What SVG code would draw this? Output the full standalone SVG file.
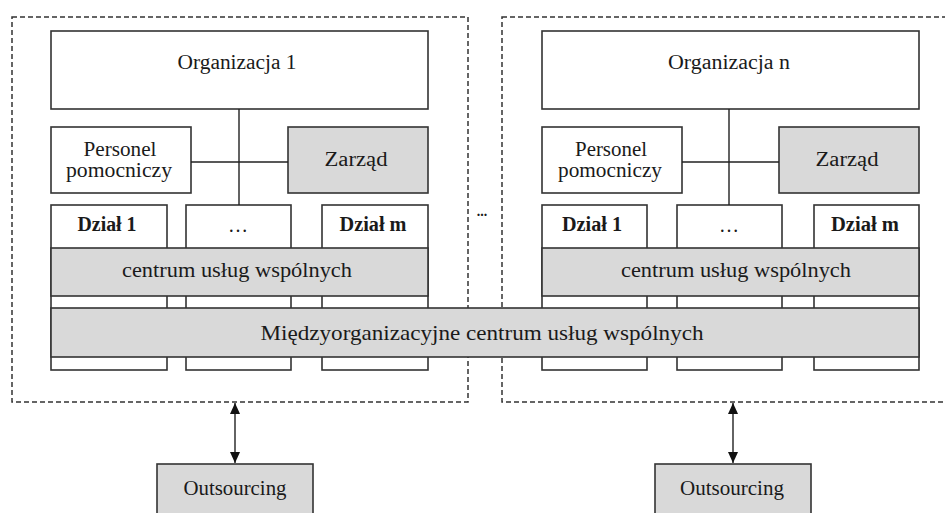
<svg xmlns="http://www.w3.org/2000/svg" width="945" height="513" viewBox="0 0 945 513">
  <defs>
    <marker id="arrowhead" viewBox="0 0 12 12" refX="12" refY="6" markerWidth="12" markerHeight="11" markerUnits="userSpaceOnUse" orient="auto-start-reverse">
      <path d="M0,0.5 L12,6 L0,11.5 Z" fill="#111"/>
    </marker>
  </defs>
  <style>
    .box { fill: #ffffff; stroke: #333; stroke-width: 1.6; }
    .grey { fill: #d9d9d9; stroke: #333; stroke-width: 1.6; }
    .frame { fill: none; stroke: #333; stroke-width: 1.5; stroke-dasharray: 5 3; }
    .link { fill: none; stroke: #222; stroke-width: 1.4; }
    text { font-family: "Liberation Serif", "Times New Roman", serif; font-size: 20px; fill: #1a1a1a; text-anchor: middle; }
    .bold { font-weight: bold; }
    .big { font-size: 22px; }
  </style>
  <rect width="945" height="513" fill="#ffffff"/>

  <!-- dashed frames around each organisation -->
  <g id="frame-1"><rect class="frame" x="12" y="17" width="456" height="385"/></g>
  <g id="frame-n"><rect class="frame" x="502" y="17" width="460" height="385"/></g>
  <g id="between-dots"><text x="482" y="216" class="bold" style="font-size:14px">...</text></g>

  <!-- Organizacja 1 -->
  <g id="org-1">
    <g id="org-1-top"><rect class="box" x="51" y="31" width="377" height="78"/><text x="237" y="69" textLength="119" lengthAdjust="spacingAndGlyphs">Organizacja 1</text></g>
    <g id="org-1-personel"><rect class="box" x="51" y="127" width="140" height="66"/><text x="120" y="156" textLength="73" lengthAdjust="spacingAndGlyphs">Personel</text><text x="119" y="177" textLength="106" lengthAdjust="spacingAndGlyphs">pomocniczy</text></g>
    <g id="org-1-zarzad"><rect class="grey" x="288" y="127" width="140" height="66"/><text x="356" y="166" textLength="63" lengthAdjust="spacingAndGlyphs">Zarząd</text></g>
    <g id="org-1-dzial-1"><rect class="box" x="51" y="205" width="116" height="165"/><text x="107" y="231" class="bold" textLength="59" lengthAdjust="spacingAndGlyphs">Dział 1</text></g>
    <g id="org-1-dzial-dots"><rect class="box" x="186" y="205" width="105" height="165"/><text x="238" y="232">…</text></g>
    <g id="org-1-dzial-m"><rect class="box" x="322" y="205" width="106" height="165"/><text x="373" y="231" class="bold" textLength="67" lengthAdjust="spacingAndGlyphs">Dział m</text></g>
    <g id="org-1-csw"><rect class="grey" x="51" y="248" width="377" height="48"/><text x="237" y="277" class="big" textLength="230" lengthAdjust="spacingAndGlyphs">centrum usług wspólnych</text></g>
  </g>

  <!-- Organizacja n -->
  <g id="org-n">
    <g id="org-n-top"><rect class="box" x="542" y="31" width="377" height="78"/><text x="729" y="69" textLength="122" lengthAdjust="spacingAndGlyphs">Organizacja n</text></g>
    <g id="org-n-personel"><rect class="box" x="542" y="127" width="140" height="66"/><text x="611" y="156" textLength="72" lengthAdjust="spacingAndGlyphs">Personel</text><text x="610" y="177" textLength="104" lengthAdjust="spacingAndGlyphs">pomocniczy</text></g>
    <g id="org-n-zarzad"><rect class="grey" x="779" y="127" width="140" height="66"/><text x="847" y="166" textLength="63" lengthAdjust="spacingAndGlyphs">Zarząd</text></g>
    <g id="org-n-dzial-1"><rect class="box" x="542" y="205" width="105" height="165"/><text x="592" y="231" class="bold" textLength="60" lengthAdjust="spacingAndGlyphs">Dział 1</text></g>
    <g id="org-n-dzial-dots"><rect class="box" x="677" y="205" width="105" height="165"/><text x="729" y="232">…</text></g>
    <g id="org-n-dzial-m"><rect class="box" x="814" y="205" width="105" height="165"/><text x="865" y="231" class="bold" textLength="68" lengthAdjust="spacingAndGlyphs">Dział m</text></g>
    <g id="org-n-csw"><rect class="grey" x="542" y="248" width="377" height="48"/><text x="736" y="277" class="big" textLength="230" lengthAdjust="spacingAndGlyphs">centrum usług wspólnych</text></g>
  </g>

  <!-- shared inter-organisational band -->
  <g id="micsw"><rect class="grey" x="51" y="308" width="868" height="49"/><text x="482" y="340" class="big" textLength="443" lengthAdjust="spacingAndGlyphs">Międzyorganizacyjne centrum usług wspólnych</text></g>

  <!-- outsourcing -->
  <g id="outsourcing-1"><rect class="grey" x="157" y="464" width="156" height="60"/><text x="235" y="495" textLength="103" lengthAdjust="spacingAndGlyphs">Outsourcing</text></g>
  <g id="outsourcing-n"><rect class="grey" x="655" y="464" width="156" height="60"/><text x="732" y="495" textLength="104" lengthAdjust="spacingAndGlyphs">Outsourcing</text></g>

  <!-- connectors -->
  <g id="connectors">
    <path class="link" d="M239,109 V205 M191,162 H288"/>
    <path class="link" d="M729,109 V205 M682,162 H779"/>
    <line class="link" x1="235" y1="403" x2="235" y2="463" marker-start="url(#arrowhead)" marker-end="url(#arrowhead)"/>
    <line class="link" x1="733" y1="403" x2="733" y2="463" marker-start="url(#arrowhead)" marker-end="url(#arrowhead)"/>
  </g>
</svg>
